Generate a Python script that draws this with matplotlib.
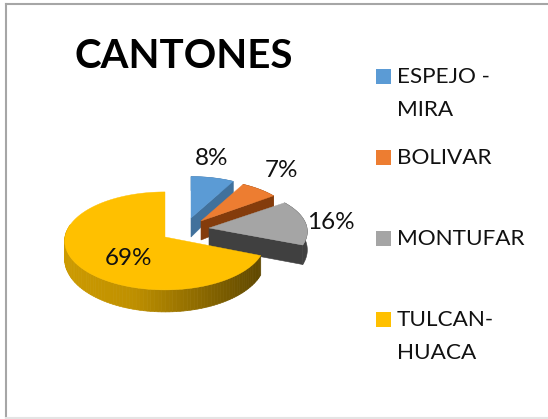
import numpy as np
import matplotlib
matplotlib.use('Agg')
import matplotlib.pyplot as plt
from matplotlib.colors import LinearSegmentedColormap
from matplotlib.patches import Polygon, Rectangle

cantones = ['ESPEJO -\nMIRA', 'BOLIVAR', 'MONTUFAR', 'TULCAN-\nHUACA']
porcentajes = [8, 7, 16, 69]

colores = ['#5b9bd5', '#ed7d31', '#a5a5a5', '#ffc000']
paredes = ['#41719c', '#843c0c', '#404040', '#404040']

# where each exploded slice sits, in pixels
centros = [(191, 218), (201, 221), (209, 228), (165, 237)]
radios = [(94, 45), (94, 45), (98, 45), (100, 49)]
etiquetas = [(212, 158), (282, 170), (331, 222), (129, 258)]
leyenda_y = [69, 150, 231, 312]

plt.rcParams['font.family'] = ['Lato', 'DejaVu Sans']

borde_oro = LinearSegmentedColormap.from_list(
    'oro', [(0, '#cc9a00'), (0.35, '#bf9000'), (0.7, '#8a6800'), (1, '#5c4500')])


def punto(centro, radio, theta, abajo=False):
    # theta runs clockwise from the top, near side is drawn bigger
    v = -np.cos(theta)
    s = 1 + 0.08 * v
    x = centro[0] + radio[0] * np.sin(theta) * s
    y = centro[1] + radio[1] * v * s
    if abajo:
        y = y + 18 + 4 * v
    return x, y


def arco(centro, radio, t0, t1, abajo=False):
    ts = np.linspace(t0, t1, 120)
    return [punto(centro, radio, t, abajo) for t in ts]


fig = plt.figure(figsize=(5.48, 4.19), dpi=100)
ax = fig.add_axes([0, 0, 1, 1])
ax.set_xlim(0, 548)
ax.set_ylim(419, 0)
ax.axis('off')

# chart frame
ax.plot([6, 6], [4.5, 418], color='#a6a6a6', lw=1.5)
ax.plot([6, 548], [4.5, 4.5], color='#a6a6a6', lw=1.5)
ax.plot([6, 548], [418, 418], color='#e4e4e4', lw=1.5)

ax.text(184, 56, 'CANTONES', fontsize=29, fontweight='bold', ha='center', va='center', color='black')

angulos = np.cumsum([0] + porcentajes) / sum(porcentajes) * 2 * np.pi

for i in range(len(porcentajes)):
    t0, t1 = angulos[i], angulos[i + 1]
    c, r = centros[i], radios[i]

    if i < 3:
        # cut face toward the viewer
        fin = punto(c, r, t1)
        fin_abajo = punto(c, r, t1, True)
        cara = [c, fin, fin_abajo, (c[0], c[1] + 19)]
        ax.add_patch(Polygon(cara, closed=True, fc=paredes[i], ec=paredes[i], lw=0.4))
        rim = arco(c, r, t0, t1) + arco(c, r, t1, t0, True)
        ax.add_patch(Polygon(rim, closed=True, fc=paredes[i], ec=paredes[i], lw=0.4))
    else:
        ts = np.linspace(t0, min(t1, np.radians(285)), 90)
        for a, b in zip(ts[:-1], ts[1:]):
            q = [punto(c, r, a), punto(c, r, b), punto(c, r, b, True), punto(c, r, a, True)]
            xm = (q[0][0] - (c[0] - r[0])) / (2 * r[0])
            col = borde_oro(np.clip(xm, 0, 1))
            ax.add_patch(Polygon(q, closed=True, fc=col, ec=col, lw=0.5))

    tapa = [c] + arco(c, r, t0, t1)
    ax.add_patch(Polygon(tapa, closed=True, fc=colores[i], ec=colores[i], lw=0.3))

    ax.text(etiquetas[i][0], etiquetas[i][1], f'{porcentajes[i]}%', fontsize=17.5,
            ha='center', va='center', color='#111111')

for nombre, color, y in zip(cantones, colores, leyenda_y):
    ax.add_patch(Rectangle((376, y), 15, 15, fc=color, ec='none'))
    for j, linea in enumerate(nombre.split('\n')):
        ax.text(397, y + 8 + j * 32.5, linea, fontsize=16.2, ha='left', va='center', color='#111111')

fig.savefig('out.png', dpi=100)
